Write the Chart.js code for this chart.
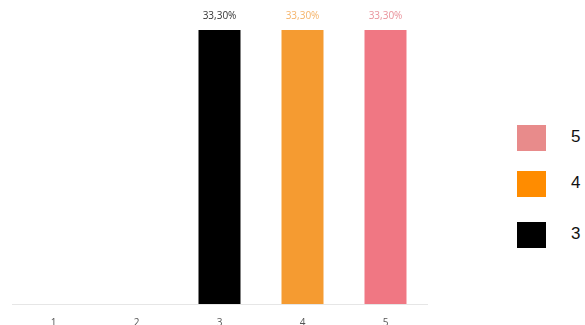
<!DOCTYPE html>
<html>
<head>
<meta charset="utf-8">
<script src="https://cdn.jsdelivr.net/npm/chart.js@4/dist/chart.umd.min.js"></script>
<style>
  html, body { margin: 0; padding: 0; background: #fff; overflow: hidden; }
  #wrap { position: relative; width: 585px; height: 325px; overflow: hidden; }
  #chartBox { position: absolute; left: 0; top: 0; width: 440px; height: 334px; }
  #legend { position: absolute; left: 517px; top: 0; font-family: "Liberation Sans", Arial, sans-serif; font-size: 17px; color: #111; }
  .item { position: absolute; left: 0; width: 90px; height: 26px; }
  .sw { position: absolute; left: 0; top: 0; width: 29px; height: 26px; }
  .lbl { position: absolute; left: 54px; top: 2px; }
</style>
</head>
<body>
<div id="wrap">
  <div id="chartBox"><canvas id="chart"></canvas></div>
  <div id="legend"></div>
</div>
<script>
const categories = ["1", "2", "3", "4", "5"];
const values = [0, 0, 33.3, 33.3, 33.3];
const barColors = ["#000000", "#000000", "#000000", "#F59B31", "#F07783"];
const valueLabelColors = ["#333333", "#333333", "#333333", "#F5B368", "#E9929B"];

// legend (shown top to bottom)
const legendNames = ["5", "4", "3"];
const legendColors = ["#E88B8B", "#FF8C00", "#000000"];
const legendTops = [125, 171, 222];

function formatPct(v) {
  return v.toFixed(2).replace(".", ",") + "%";
}

const valueLabels = {
  id: "valueLabels",
  afterDatasetsDraw(chart) {
    const ctx = chart.ctx;
    const meta = chart.getDatasetMeta(0);
    ctx.save();
    ctx.font = "10px 'Open Sans', sans-serif";
    ctx.textAlign = "center";
    ctx.textBaseline = "bottom";
    meta.data.forEach((bar, i) => {
      if (!values[i]) return;
      ctx.fillStyle = valueLabelColors[i];
      ctx.fillText(formatPct(values[i]), bar.x, bar.y - 9);
    });
    ctx.restore();
  }
};

new Chart(document.getElementById("chart"), {
  type: "bar",
  data: {
    labels: categories,
    datasets: [{
      data: values,
      backgroundColor: barColors,
      barPercentage: 1,
      categoryPercentage: 0.506
    }]
  },
  options: {
    responsive: true,
    maintainAspectRatio: false,
    animation: false,
    layout: { padding: { left: 12, right: 13, top: 30, bottom: 0 } },
    plugins: { legend: { display: false }, tooltip: { enabled: false } },
    scales: {
      x: {
        grid: { display: false },
        border: { color: "#E6E6E6", width: 1 },
        ticks: { color: "#555", font: { family: "'Open Sans', sans-serif", size: 10 }, padding: 5 }
      },
      y: { display: false, min: 0, max: 33.3 }
    }
  },
  plugins: [valueLabels]
});

const legend = document.getElementById("legend");
legendNames.forEach((name, i) => {
  const item = document.createElement("div");
  item.className = "item";
  item.style.top = legendTops[i] + "px";
  item.innerHTML = '<div class="sw" style="background:' + legendColors[i] + '"></div><span class="lbl">' + name + '</span>';
  legend.appendChild(item);
});
</script>
</body>
</html>
